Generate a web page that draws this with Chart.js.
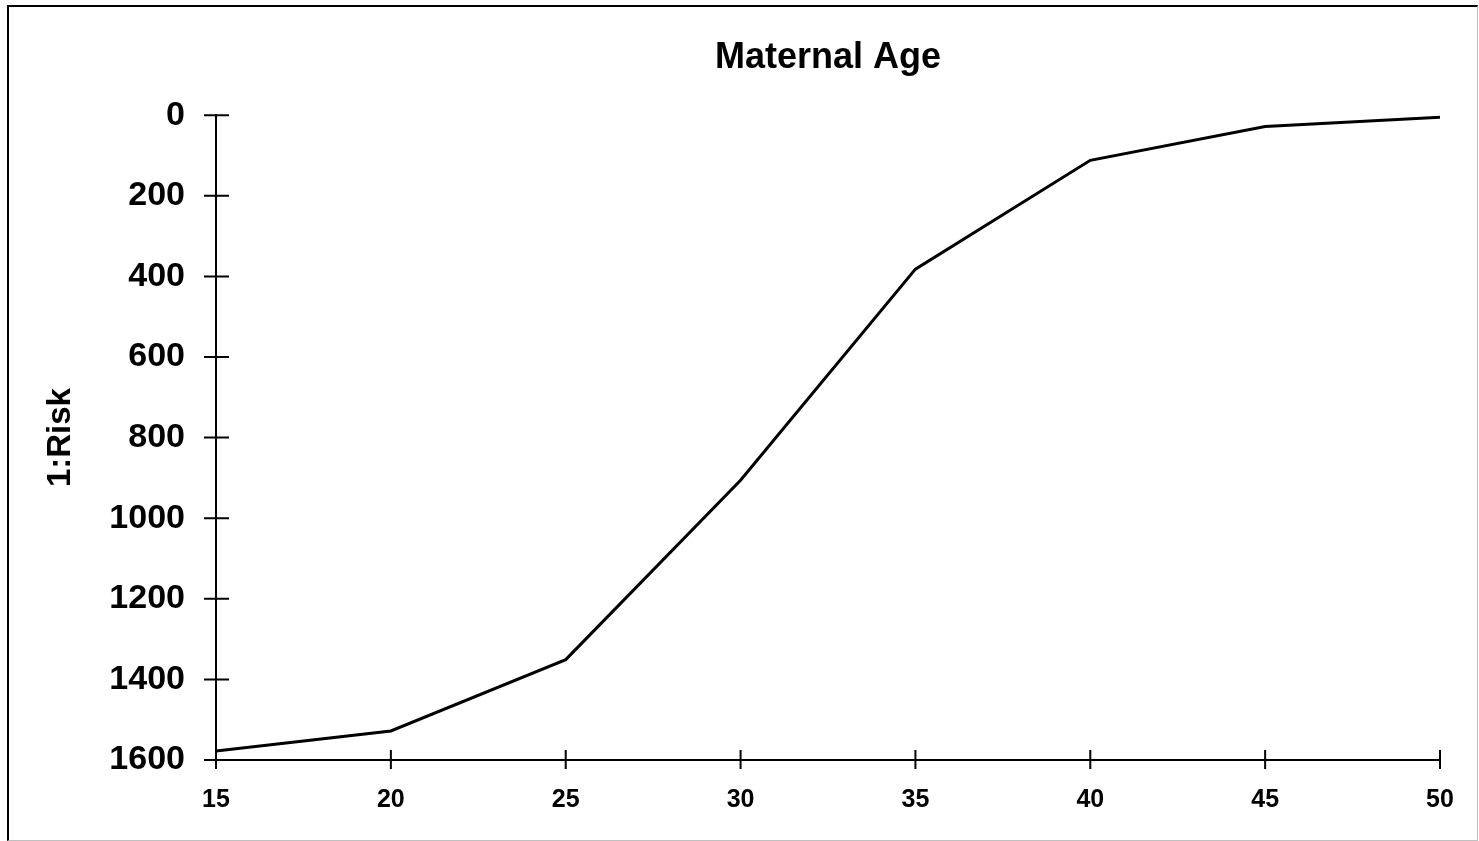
<!DOCTYPE html>
<html>
<head>
<meta charset="utf-8">
<script src="https://cdn.jsdelivr.net/npm/chart.js@4"></script>
<style>
  html, body { margin: 0; padding: 0; background: #fff; overflow: hidden; }
  #frame {
    position: absolute; left: 7px; top: 5px; width: 1468px; height: 833px;
    border-left: 2px solid #000; border-top: 2px solid #000;
    border-right: 1px solid #c0c0c0; border-bottom: 1px solid #c0c0c0;
    pointer-events: none;
  }
  #wrap { position: absolute; left: 0; top: 0; width: 1479px; height: 841px; }
</style>
</head>
<body>
<div id="wrap"><canvas id="risk-chart"></canvas></div>
<div id="frame"></div>
<script>
const maternalAge = [15, 20, 25, 30, 35, 40, 45, 50];
const riskOneIn = [1578, 1528, 1351, 906, 382, 112, 28, 5];
const yTicks = [0, 200, 400, 600, 800, 1000, 1200, 1400, 1600];
const xTicks = [15, 20, 25, 30, 35, 40, 45, 50];

const FONT = "'Liberation Sans', Arial, sans-serif";

// ticks that cross the axis line, like the original
const crossTicks = {
  id: "crossTicks",
  afterDraw(chart) {
    const { ctx, scales } = chart;
    const x = scales.x;
    const y = scales.y;
    ctx.save();
    ctx.strokeStyle = "#000";
    ctx.lineWidth = 2;
    ctx.beginPath();
    yTicks.forEach((v) => {
      const py = y.getPixelForValue(v);
      ctx.moveTo(x.left - 12, py);
      ctx.lineTo(x.left + 13, py);
    });
    xTicks.forEach((v) => {
      const px = x.getPixelForValue(v);
      ctx.moveTo(px, y.bottom - 10);
      ctx.lineTo(px, y.bottom + 9);
    });
    ctx.stroke();
    ctx.restore();
  }
};

new Chart(document.getElementById("risk-chart"), {
  type: "line",
  data: {
    datasets: [
      {
        data: maternalAge.map((age, i) => ({ x: age, y: riskOneIn[i] })),
        borderColor: "#000",
        borderWidth: 3,
        pointRadius: 0,
        tension: 0,
        fill: false
      }
    ]
  },
  options: {
    responsive: true,
    maintainAspectRatio: false,
    animation: false,
    layout: { padding: { left: 0, right: 39, top: 0, bottom: 0 } },
    plugins: {
      legend: { display: false },
      tooltip: { enabled: false },
      title: {
        display: true,
        fullSize: false,
        text: "Maternal Age",
        color: "#000",
        font: { family: FONT, size: 36, weight: "bold" },
        padding: { top: 36, bottom: 36 }
      }
    },
    scales: {
      x: {
        type: "linear",
        min: 15,
        max: 50,
        grid: { display: false, drawTicks: false },
        border: { display: true, color: "#000", width: 2 },
        ticks: {
          stepSize: 5,
          color: "#000",
          padding: 25,
          callback: (v) => String(v),
          font: { family: FONT, size: 25, weight: "bold" }
        },
        afterFit(scale) { scale.height = 81; }
      },
      y: {
        reverse: true,
        min: 0,
        max: 1600,
        grid: { display: false, drawTicks: false },
        border: { display: true, color: "#000", width: 2 },
        ticks: {
          stepSize: 200,
          color: "#000",
          padding: 31,
          callback: (v) => String(v),
          font: { family: FONT, size: 34, weight: "bold" }
        },
        title: {
          display: true,
          text: "1:Risk",
          color: "#000",
          font: { family: FONT, size: 33, weight: "bold" },
          padding: { top: 41, bottom: 0 }
        },
        afterFit(scale) { scale.width = 216; }
      }
    }
  },
  plugins: [crossTicks]
});
</script>
</body>
</html>
